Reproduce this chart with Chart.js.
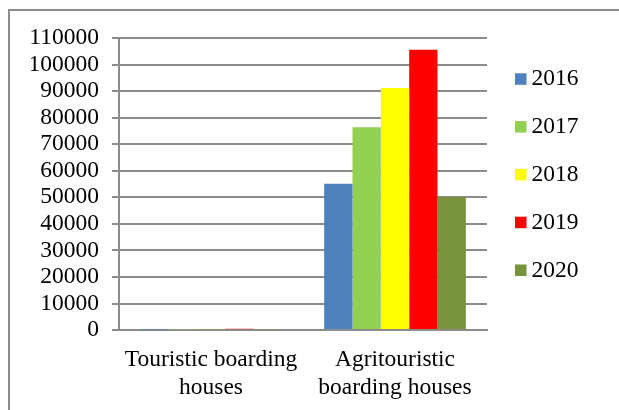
<!DOCTYPE html>
<html>
<head>
<meta charset="utf-8">
<script src="https://cdn.jsdelivr.net/npm/chart.js@4"></script>
<style>
  body { margin: 0; background: #fff; }
  #frame { position: absolute; left: 8px; top: 9px; width: 800px; height: 600px;
           border-left: 2px solid #8c8c8c; border-top: 2px solid #8c8c8c; }
  #wrap { position: absolute; left: 0; top: 0; width: 619px; height: 410px; }
</style>
</head>
<body>
<div id="frame"></div>
<div id="wrap"><canvas id="boarding-chart" width="619" height="410"></canvas></div>
<script>
const categories = [['Touristic boarding', 'houses'], ['Agritouristic', 'boarding houses']];
const years = ['2016', '2017', '2018', '2019', '2020'];
const values2016 = [150, 55100];
const values2017 = [250, 76400];
const values2018 = [450, 91200];
const values2019 = [500, 105600];
const values2020 = [300, 50100];
const yTicks = [0, 10000, 20000, 30000, 40000, 50000, 60000, 70000, 80000, 90000, 100000, 110000];

const colors = ['#4F81BD', '#92D050', '#FFFF00', '#FF0000', '#77933C'];
const seriesValues = [values2016, values2017, values2018, values2019, values2020];
const fontFamily = '"Liberation Serif", "Times New Roman", serif';
const gridGrey = '#8c8c8c';

// legend drawn by hand so it sits where the original one is
const sideLegend = {
    id: 'sideLegend',
    afterDraw(chart) {
        const ctx = chart.ctx;
        ctx.save();
        ctx.font = '23.5px ' + fontFamily;
        ctx.textBaseline = 'middle';
        chart.data.datasets.forEach((ds, i) => {
            const y = 73.3 + i * 47.8;
            ctx.fillStyle = ds.backgroundColor;
            ctx.fillRect(515, y, 11.5, 11.5);
            ctx.fillStyle = '#000';
            ctx.fillText(ds.label, 531.5, y + 6);
        });
        ctx.restore();
    }
};

const boardingCtx = document.getElementById('boarding-chart').getContext('2d');

const boardingChart = new Chart(boardingCtx, {
    type: 'bar',
    data: {
        labels: categories,
        datasets: years.map((year, i) => ({
            label: year,
            data: seriesValues[i],
            backgroundColor: colors[i],
            borderWidth: 0,
            categoryPercentage: 0.77,
            barPercentage: 1
        }))
    },
    options: {
        responsive: false,
        animation: false,
        layout: { padding: { left: 31, top: 38, right: 132, bottom: 0 } },
        plugins: {
            legend: { display: false },
            tooltip: { enabled: false }
        },
        scales: {
            x: {
                // the wide category labels should not push the plot area in
                afterFit(scale) {
                    scale.paddingLeft = 0;
                    scale.paddingRight = 0;
                },
                grid: { display: false },
                border: { display: true, color: gridGrey, width: 2 },
                ticks: {
                    color: '#000',
                    padding: 8,
                    maxRotation: 0,
                    autoSkip: false,
                    font: { family: fontFamily, size: 23.5, lineHeight: 1.19 }
                }
            },
            y: {
                min: 0,
                max: 110000,
                afterBuildTicks(scale) {
                    scale.ticks = yTicks.map(v => ({ value: v }));
                },
                afterFit(scale) {
                    scale.width = 88;
                },
                grid: { color: gridGrey, lineWidth: 2, tickLength: 7 },
                border: { display: true, color: gridGrey, width: 2 },
                ticks: {
                    color: '#000',
                    padding: 13,
                    autoSkip: false,
                    callback: v => String(v),
                    font: { family: fontFamily, size: 23.5 }
                }
            }
        }
    },
    plugins: [sideLegend]
});
</script>
</body>
</html>
